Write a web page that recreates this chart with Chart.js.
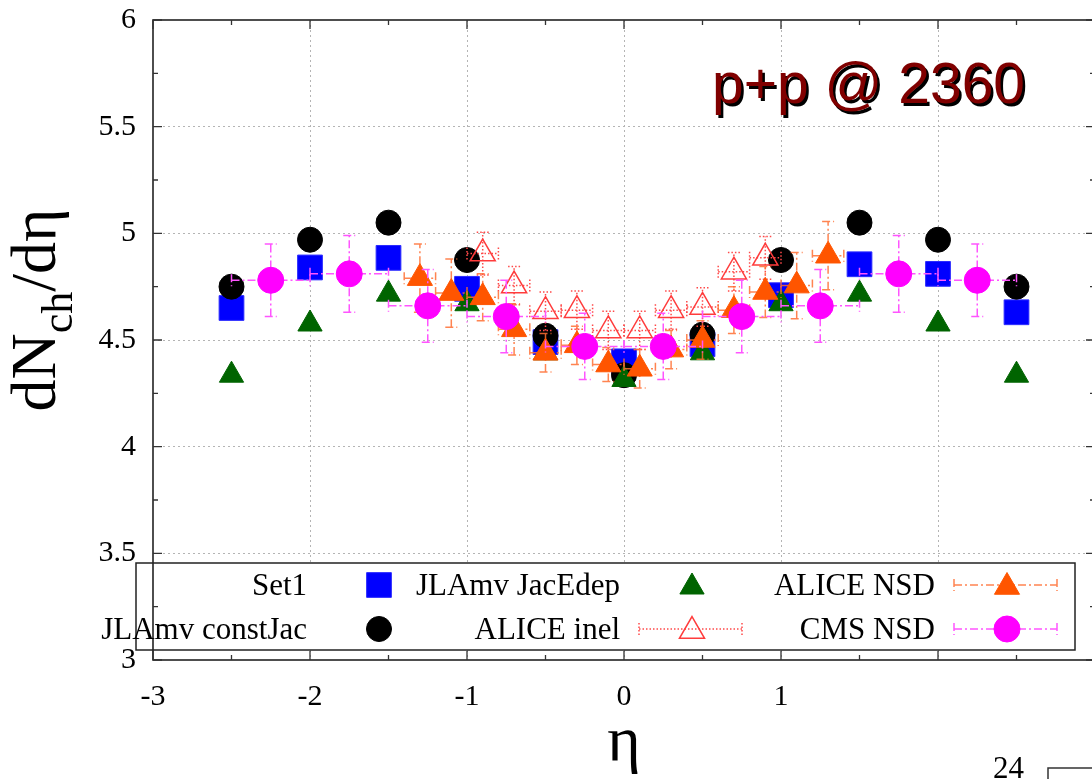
<!DOCTYPE html>
<html><head><meta charset="utf-8">
<script src="https://cdn.jsdelivr.net/npm/chart.js@4.4.1/dist/chart.umd.min.js"></script>
<style>
html,body{margin:0;padding:0;background:#fff;overflow:hidden;width:1092px;height:779px;}
#wrap{position:absolute;left:0;top:0;width:1100px;height:779px;}
canvas{display:block;}
</style></head><body>
<div id="wrap"><canvas id="c" width="1100" height="779"></canvas></div>
<script>
// ---- data ----
const etaModel = [-2.5, -2, -1.5, -1, -0.5, 0, 0.5, 1, 1.5, 2, 2.5];
const set1     = [4.65, 4.84, 4.885, 4.74, 4.49, 4.40, 4.48, 4.71, 4.855, 4.81, 4.63];
const constJac = [4.75, 4.97, 5.05, 4.875, 4.52, 4.335, 4.525, 4.875, 5.05, 4.97, 4.75];
const jacEdep  = [4.335, 4.575, 4.715, 4.67, 4.44, 4.315, 4.44, 4.67, 4.715, 4.575, 4.335];

const etaAliceNSD = [-1.3, -1.1, -0.9, -0.7, -0.5, -0.3, -0.1, 0.1, 0.3, 0.5, 0.7, 0.9, 1.1, 1.3];
const aliceNSD    = [4.79, 4.72, 4.70, 4.55, 4.44, 4.475, 4.385, 4.365, 4.455, 4.50, 4.64, 4.725, 4.755, 4.895];
const aliceNSDErr = [0.16, 0.16, 0.11, 0.12, 0.09, 0.09, 0.08, 0.09, 0.09, 0.09, 0.11, 0.12, 0.155, 0.16];

const etaAliceInel = [-0.9, -0.7, -0.5, -0.3, -0.1, 0.1, 0.3, 0.5, 0.7, 0.9];
const aliceInel    = [4.905, 4.755, 4.635, 4.64, 4.545, 4.545, 4.64, 4.655, 4.82, 4.885];
const aliceInelErr = [0.10, 0.09, 0.09, 0.09, 0.09, 0.09, 0.09, 0.09, 0.09, 0.10];

const etaCMS    = [-2.25, -1.75, -1.25, -0.75, -0.25, 0.25, 0.75, 1.25, 1.75, 2.25];
const cmsNSD    = [4.78, 4.81, 4.66, 4.61, 4.47, 4.47, 4.61, 4.66, 4.81, 4.78];
const cmsNSDErr = [0.17, 0.18, 0.17, 0.17, 0.155, 0.155, 0.17, 0.17, 0.18, 0.17];

const aliceHalfBin = 0.1;
const cmsHalfBin = 0.25;

const xTickLabels = [-3, -2, -1, 0, 1];
const yTickLabels = [3, 3.5, 4, 4.5, 5, 5.5, 6];

const seriesNames = ['Set1', 'JLAmv constJac', 'JLAmv JacEdep', 'ALICE inel', 'ALICE NSD', 'CMS NSD'];
const plotTitle = 'p+p @ 2360';
const pageNumber = '24';

const pts = (xs, ys) => xs.map((x, i) => ({x: x, y: ys[i]}));
const SERIF = '"Liberation Serif", "DejaVu Serif", serif';

// ---- plugins ----
const errorBars = {
  id: 'errorBars',
  beforeDatasetDraw(chart, args) {
    const ds = chart.data.datasets[args.index];
    if (!ds.errY) return;
    const ctx = chart.ctx, xs = chart.scales.x, ys = chart.scales.y;
    ctx.save();
    ctx.strokeStyle = ds.errColor;
    ctx.lineWidth = 1.5;
    ctx.setLineDash(ds.errDash);
    ds.data.forEach((p, i) => {
      const px = xs.getPixelForValue(p.x), py = ys.getPixelForValue(p.y);
      const x0 = xs.getPixelForValue(p.x - ds.errX), x1 = xs.getPixelForValue(p.x + ds.errX);
      const y0 = ys.getPixelForValue(p.y - ds.errY[i]), y1 = ys.getPixelForValue(p.y + ds.errY[i]);
      ctx.beginPath();
      ctx.moveTo(x0, py); ctx.lineTo(x1, py);
      ctx.moveTo(px, y0); ctx.lineTo(px, y1);
      ctx.moveTo(x0, py - 6); ctx.lineTo(x0, py + 6);
      ctx.moveTo(x1, py - 6); ctx.lineTo(x1, py + 6);
      ctx.moveTo(px - 6, y0); ctx.lineTo(px + 6, y0);
      ctx.moveTo(px - 6, y1); ctx.lineTo(px + 6, y1);
      ctx.stroke();
    });
    ctx.restore();
  }
};

function drawMarker(ctx, style, x, y, r, fill, stroke, lw) {
  ctx.save();
  ctx.beginPath();
  if (style === 'rect') {
    const s = Math.SQRT1_2 * r;
    ctx.rect(x - s, y - s, 2 * s, 2 * s);
  } else if (style === 'triangle') {
    ctx.moveTo(x, y - r);
    ctx.lineTo(x + Math.sin(2 * Math.PI / 3) * r, y + r / 2);
    ctx.lineTo(x - Math.sin(2 * Math.PI / 3) * r, y + r / 2);
    ctx.closePath();
  } else {
    ctx.arc(x, y, r, 0, Math.PI * 2);
  }
  if (fill) { ctx.fillStyle = fill; ctx.fill(); }
  if (stroke) { ctx.strokeStyle = stroke; ctx.lineWidth = lw; ctx.stroke(); }
  ctx.restore();
}

const decorations = {
  id: 'decorations',
  afterDraw(chart) {
    const ctx = chart.ctx, xs = chart.scales.x, ys = chart.scales.y;
    const a = chart.chartArea;
    ctx.save();
    // legend box
    const L = {x0: 136, y0: 563, x1: 1075, y1: 650};
    ctx.fillStyle = '#fff';
    ctx.fillRect(L.x0, L.y0, L.x1 - L.x0, L.y1 - L.y0);
    ctx.strokeStyle = '#222'; ctx.lineWidth = 1.5;
    ctx.strokeRect(L.x0, L.y0, L.x1 - L.x0, L.y1 - L.y0);

    // frame
    ctx.strokeStyle = '#222'; ctx.lineWidth = 1.6;
    ctx.strokeRect(a.left, a.top, a.right - a.left, a.bottom - a.top);
    // inward ticks
    ctx.lineWidth = 1.3; ctx.strokeStyle = '#333';
    ctx.beginPath();
    for (let v = -3; v <= 3.001; v += 0.5) {
      const px = xs.getPixelForValue(v);
      const len = Math.abs(v - Math.round(v)) < 1e-6 ? 9 : 5;
      ctx.moveTo(px, a.bottom); ctx.lineTo(px, a.bottom - len);
      ctx.moveTo(px, a.top); ctx.lineTo(px, a.top + len);
    }
    for (let v = 3; v <= 6.001; v += 0.25) {
      const py = ys.getPixelForValue(v);
      const len = Math.abs(v * 2 - Math.round(v * 2)) < 1e-6 ? 9 : 5;
      ctx.moveTo(a.left, py); ctx.lineTo(a.left + len, py);
      ctx.moveTo(a.right, py); ctx.lineTo(a.right - len, py);
    }
    ctx.stroke();

    // legend entries
    const dsets = chart.data.datasets;
    const cols = [307, 620, 935];
    const rows = [585, 629];
    const pos = {0: [0, 0], 2: [1, 0], 4: [2, 0], 1: [0, 1], 3: [1, 1], 5: [2, 1]};
    ctx.font = '31px ' + SERIF;
    ctx.textAlign = 'right';
    ctx.textBaseline = 'alphabetic';
    dsets.forEach((ds, i) => {
      const [c, r] = pos[i];
      const tx = cols[c], my = rows[r];
      ctx.fillStyle = '#000';
      ctx.fillText(ds.label, tx, my + 10);
      const mx = tx + 72;
      if (ds.errY) {
        ctx.save();
        ctx.strokeStyle = ds.errColor; ctx.lineWidth = 1.5; ctx.setLineDash(ds.errDash);
        ctx.beginPath();
        ctx.moveTo(tx + 19, my); ctx.lineTo(tx + 122, my);
        ctx.moveTo(tx + 19, my - 6); ctx.lineTo(tx + 19, my + 6);
        ctx.moveTo(tx + 122, my - 6); ctx.lineTo(tx + 122, my + 6);
        ctx.stroke();
        ctx.restore();
      }
      const filled = ds.backgroundColor !== 'rgba(0,0,0,0)';
      drawMarker(ctx, ds.pointStyle, mx, my + (ds.pointStyle === 'triangle' ? 2 : 0), ds.pointRadius,
        filled ? ds.backgroundColor : null, ds.borderColor, ds.borderWidth);
    });

    // y axis title with subscript
    ctx.save();
    ctx.translate(55, 310);
    ctx.rotate(-Math.PI / 2);
    ctx.fillStyle = '#000';
    ctx.textAlign = 'left';
    ctx.textBaseline = 'alphabetic';
    const fMain = '64px ' + SERIF, fSub = '44px ' + SERIF;
    ctx.font = fMain; const w1 = ctx.measureText('dN').width; const w3 = ctx.measureText('/d\u03B7').width;
    ctx.font = fSub; const w2 = ctx.measureText('ch').width;
    let sx = -(w1 + w2 + w3) / 2;
    ctx.font = fMain; ctx.fillText('dN', sx, 0); sx += w1;
    ctx.font = fSub; ctx.fillText('ch', sx, 17); sx += w2;
    ctx.font = fMain; ctx.fillText('/d\u03B7', sx, 0);
    ctx.restore();

    // x axis title
    ctx.font = '64px ' + SERIF;
    ctx.textAlign = 'center';
    ctx.fillStyle = '#000';
    ctx.fillText('\u03B7', (a.left + a.right) / 2, 760);

    // plot title with shadow
    ctx.font = '57px "Liberation Sans", Arial, sans-serif';
    ctx.textAlign = 'left';
    ctx.fillStyle = '#000';
    ctx.fillText(plotTitle, 714.5, 105.5);
    ctx.fillStyle = '#800000';
    ctx.fillText(plotTitle, 712, 103);

    // page number and box
    ctx.font = '31px ' + SERIF;
    ctx.fillStyle = '#000';
    ctx.fillText(pageNumber, 993, 778);
    ctx.strokeStyle = '#333'; ctx.lineWidth = 1.5;
    ctx.strokeRect(1048, 768, 100, 40);
    ctx.restore();
  }
};

const gridColor = edge => (ctx) => (ctx.tick && edge.indexOf(ctx.tick.value) < 0) ? '#b4b4b4' : 'rgba(0,0,0,0)';

new Chart(document.getElementById('c'), {
  type: 'scatter',
  data: {
    datasets: [
      {label: seriesNames[0], data: pts(etaModel, set1), pointStyle: 'rect', pointRadius: 17.5,
       backgroundColor: '#0000ff', borderColor: '#2a2aff', borderWidth: 1, order: 5},
      {label: seriesNames[1], data: pts(etaModel, constJac), pointStyle: 'circle', pointRadius: 12.5,
       backgroundColor: '#000000', borderColor: '#000000', borderWidth: 1, order: 4},
      {label: seriesNames[2], data: pts(etaModel, jacEdep), pointStyle: 'triangle', pointRadius: 14,
       backgroundColor: '#006400', borderColor: '#006400', borderWidth: 1, order: 3},
      {label: seriesNames[3], data: pts(etaAliceInel, aliceInel), pointStyle: 'triangle', pointRadius: 14.5,
       backgroundColor: 'rgba(0,0,0,0)', borderColor: '#ff3c3c', borderWidth: 1.5, order: 2,
       errY: aliceInelErr, errX: aliceHalfBin, errColor: '#ff4a4a', errDash: [1.5, 2]},
      {label: seriesNames[4], data: pts(etaAliceNSD, aliceNSD), pointStyle: 'triangle', pointRadius: 14.5,
       backgroundColor: '#ff5500', borderColor: '#ff5500', borderWidth: 1, order: 1,
       errY: aliceNSDErr, errX: aliceHalfBin, errColor: 'rgba(255,110,50,0.85)', errDash: [8, 3, 2, 3]},
      {label: seriesNames[5], data: pts(etaCMS, cmsNSD), pointStyle: 'circle', pointRadius: 13,
       backgroundColor: '#ff00ff', borderColor: '#ff00ff', borderWidth: 1, order: 0,
       errY: cmsNSDErr, errX: cmsHalfBin, errColor: '#ff55ff', errDash: [8, 3, 2, 3]}
    ]
  },
  options: {
    responsive: false,
    animation: false,
    devicePixelRatio: 1,
    events: [],
    layout: {autoPadding: false, padding: {top: 20, right: 5, left: 0, bottom: 0}},
    plugins: {legend: {display: false}, tooltip: {enabled: false}, title: {display: false}},
    scales: {
      x: {
        type: 'linear', min: -3, max: 3,
        afterFit: s => { s.height = 119; s.paddingLeft = 0; s.paddingRight = 0; },
        ticks: {stepSize: 1, autoSkip: false, maxRotation: 0, padding: 22, color: '#000',
          font: {family: SERIF, size: 30, lineHeight: 1},
          callback: v => xTickLabels.indexOf(v) >= 0 ? String(v) : ''},
        grid: {color: gridColor([-3, 3]), lineWidth: 1, drawTicks: false, borderDash: [2, 3], dash: [2, 3]},
        border: {display: false, dash: [2, 3]}
      },
      y: {
        type: 'linear', min: 3, max: 6,
        afterFit: s => { s.width = 153; s.paddingTop = 0; s.paddingBottom = 0; },
        ticks: {stepSize: 0.5, autoSkip: false, padding: 17, color: '#000',
          font: {family: SERIF, size: 30, lineHeight: 1},
          callback: v => yTickLabels.indexOf(v) >= 0 ? String(v) : ''},
        grid: {color: gridColor([3, 6]), lineWidth: 1, drawTicks: false, borderDash: [2, 3], dash: [2, 3]},
        border: {display: false, dash: [2, 3]}
      }
    }
  },
  plugins: [errorBars, decorations]
});
</script>
</body></html>
